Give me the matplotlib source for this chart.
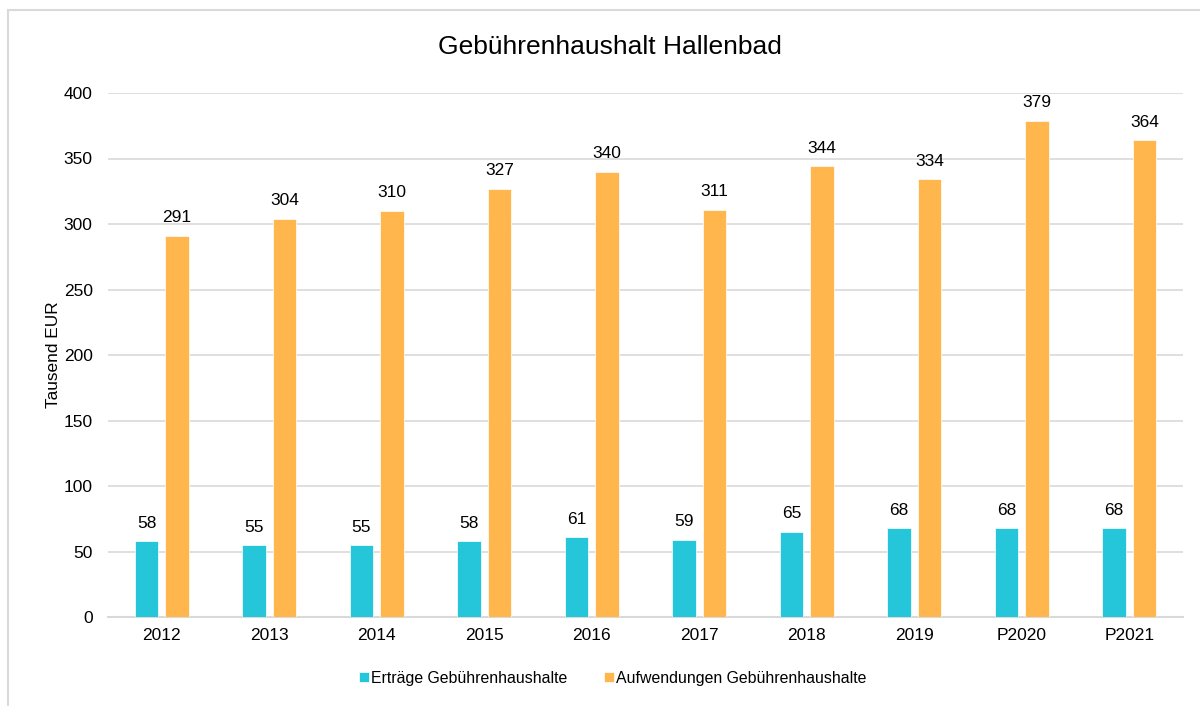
import numpy as np
import matplotlib.pyplot as plt
from matplotlib.patches import Rectangle

plt.rcParams['font.family'] = ['Liberation Sans', 'DejaVu Sans']

# ----- data -----
jahre = ['2012', '2013', '2014', '2015', '2016', '2017', '2018', '2019', 'P2020', 'P2021']
ertraege = [58, 55, 55, 58, 61, 59, 65, 68, 68, 68]
aufwendungen = [291, 304, 310, 327, 340, 311, 344, 334, 379, 364]

c_ertr = '#26C6DA'
c_aufw = '#FFB74D'

fig = plt.figure(figsize=(12, 7.06), dpi=100)
ax = fig.add_axes([108/1200, 1 - 617/706, 1075/1200, 524/706])

# frame around the chart (cut at right/bottom like in the screenshot)
fig.patches.append(Rectangle((8/1200, -0.05), 1.2, 1 - 10/706 + 0.05,
                             transform=fig.transFigure, fill=False,
                             edgecolor='#D9D9D9', linewidth=1.5))

x = np.arange(len(jahre))
w = 0.22
off = 0.142
b1 = ax.bar(x - off, ertraege, w, color=c_ertr, edgecolor='white', linewidth=0.5,
            label='Erträge Gebührenhaushalte', zorder=3)
b2 = ax.bar(x + off, aufwendungen, w, color=c_aufw, edgecolor='white', linewidth=0.5,
            label='Aufwendungen Gebührenhaushalte', zorder=3)

for rects, vals in ((b1, ertraege), (b2, aufwendungen)):
    for r, v in zip(rects, vals):
        ax.annotate(str(v), (r.get_x() + r.get_width()/2, v), xytext=(0, 7.5),
                    textcoords='offset points', ha='center', va='bottom', fontsize=12.5)

ax.set_xlim(-0.5, len(jahre) - 0.5)
ax.set_ylim(0, 400)
ax.set_yticks(np.arange(0, 401, 50))
ax.set_xticks(x)
ax.set_xticklabels(jahre)
ax.tick_params(axis='both', length=0, labelsize=12.5, colors='black')
ax.tick_params(axis='y', pad=11)
ax.tick_params(axis='x', pad=8)
ax.grid(axis='y', color='#D9D9D9', linewidth=1.2, zorder=0)
for s in ['top', 'right', 'left']:
    ax.spines[s].set_visible(False)
ax.spines['bottom'].set_color('#D9D9D9')
ax.spines['bottom'].set_linewidth(1.5)

ax.set_ylabel('Tausend EUR', fontsize=12.4, labelpad=2)
fig.text(610/1200, 1 - 47/706, 'Gebührenhaushalt Hallenbad', ha='center', va='center', fontsize=19)

fig.legend(loc='center', bbox_to_anchor=(613/1200, 1 - 678/706), ncol=2, frameon=False,
           fontsize=11.4, handlelength=0.63, handleheight=0.63, handletextpad=0.13,
           columnspacing=2.34)

fig.savefig('out.png', dpi=100)
